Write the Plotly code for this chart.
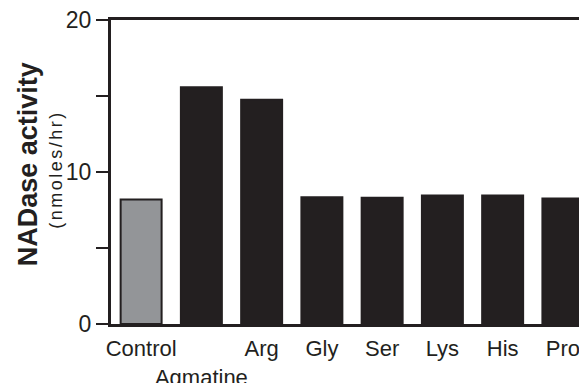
import plotly.graph_objects as go

categories = ["Control", "Agmatine", "Arg", "Gly", "Ser", "Lys", "His", "Pro"]
tick_labels = ["Control", "<br>Agmatine", "Arg", "Gly", "Ser", "Lys", "His", "Pro"]
values = [8.19, 15.57, 14.76, 8.34, 8.3, 8.46, 8.46, 8.26]
bar_colors = ["#939598"] + ["#231f20"] * 7
y_tickvals = [0, 5, 10, 15, 20]
y_ticktext = ["0", "", "10", "", "20"]

INK = "#231f20"
FONT = "Liberation Sans, Arial, sans-serif"

fig = go.Figure(
    go.Bar(
        x=categories,
        y=values,
        width=0.68,
        marker=dict(color=bar_colors, line=dict(color=INK, width=2)),
        hoverinfo="skip",
    )
)

fig.update_layout(
    width=579,
    height=375,
    margin=dict(l=103, r=0, t=12, b=59),
    paper_bgcolor="white",
    plot_bgcolor="white",
    showlegend=False,
    font=dict(family=FONT, color=INK),
    xaxis=dict(
        type="category",
        range=[-0.5, 7.4],
        tickmode="array",
        tickvals=categories,
        ticktext=tick_labels,
        tickangle=0,
        automargin=False,
        ticklabelstandoff=3,
        ticklabeloverflow="allow",
        tickfont=dict(size=22, color=INK, family=FONT),
        ticks="",
        showgrid=False,
        zeroline=False,
        showline=True,
        linecolor=INK,
        linewidth=3,
        mirror=True,
    ),
    yaxis=dict(
        range=[0, 20],
        tickmode="array",
        tickvals=y_tickvals,
        ticktext=y_ticktext,
        automargin=False,
        ticklabeloverflow="allow",
        tickfont=dict(size=23, color=INK, family=FONT),
        ticks="outside",
        ticklen=12,
        tickwidth=2,
        tickcolor=INK,
        showgrid=False,
        zeroline=False,
        showline=True,
        linecolor=INK,
        linewidth=3,
    ),
    annotations=[
        dict(
            text="<b>NADase activity</b>",
            textangle=-90,
            xref="paper", yref="paper",
            x=-0.1754, y=0.524,
            xanchor="center", yanchor="middle",
            showarrow=False,
            font=dict(size=27, color=INK, family=FONT),
        ),
        dict(
            text="<span style='letter-spacing:2.5px'>(nmoles/hr)</span>",
            textangle=-90,
            xref="paper", yref="paper",
            x=-0.1145, y=0.509,
            xanchor="center", yanchor="middle",
            showarrow=False,
            font=dict(size=18, color=INK, family=FONT),
        ),
    ],
)

fig.write_html("out.html")
